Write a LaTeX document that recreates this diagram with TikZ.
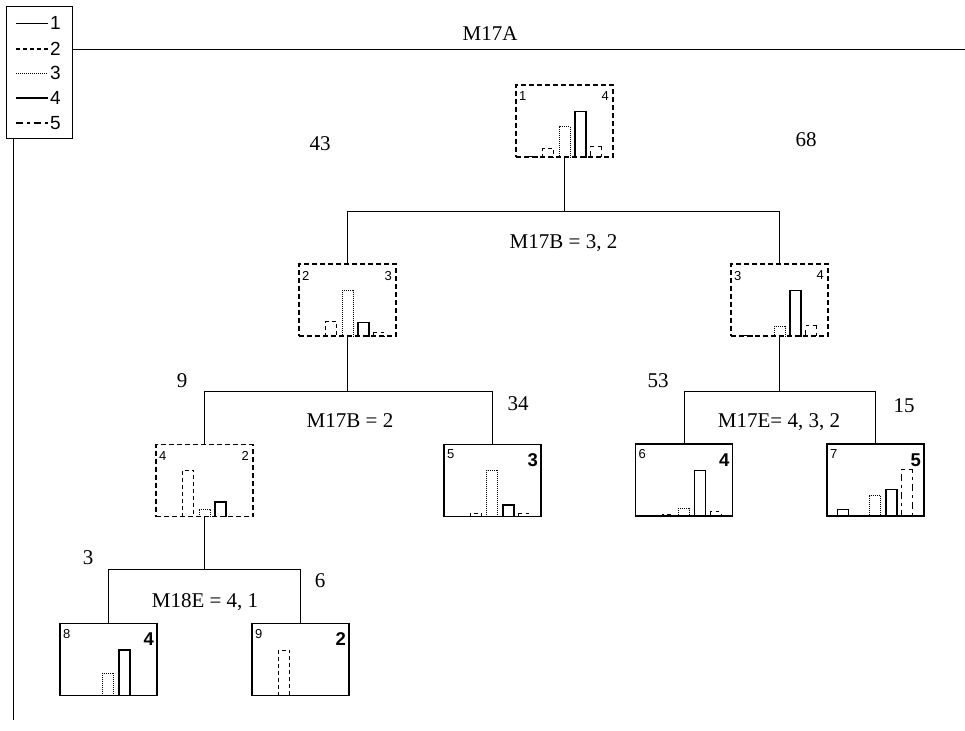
\documentclass[tikz,border=0pt]{standalone}
\usepackage{fontspec}
\setmainfont{Liberation Serif}
\newfontfamily\arialf{Liberation Sans}
\usetikzlibrary{calc}
\tikzset{
  dbox/.style={draw, line width=1.3pt, dash pattern=on 5pt off 3pt, minimum width=97pt, minimum height=72pt, inner sep=0pt},
  lbox/.style={draw, line width=1.4pt, minimum width=97pt, minimum height=72pt, inner sep=0pt},
  c1/.style={line width=0.8pt},
  c2/.style={line width=1.2pt, dash pattern=on 4pt off 3pt},
  c3/.style={line width=0.7pt, dash pattern=on 1pt off 1pt},
  c4/.style={line width=1.5pt},
  c5/.style={line width=1.2pt, dash pattern=on 7pt off 4pt on 3pt off 4pt},
  conn/.style={line width=0.8pt},
  txt/.style={font=\fontsize{21}{22}\selectfont, anchor=base, inner sep=0pt},
  small/.style={font=\arialf\fontsize{13}{14}\selectfont, inner sep=0pt},
  big/.style={font=\arialf\bfseries\fontsize{18.5}{19}\selectfont, inner sep=0pt},
  legnum/.style={font=\arialf\fontsize{19}{20}\selectfont, inner sep=0pt, anchor=west}
}
\newcommand\onebar[4]{\ifdim #3pt>0pt \draw[#4] ($(#1.south west)+({16*#2-4.5},0)$) -- ++(0,-#3) -- ++(11,0) -- ++(0,#3);\fi}
\newcommand\histo[6]{\onebar{#1}{1}{#2}{c1}\onebar{#1}{2}{#3}{c2}\onebar{#1}{3}{#4}{c3}\onebar{#1}{4}{#5}{c4}\onebar{#1}{5}{#6}{c5}}
\newcommand\dlabels[3]{%
  \node[small, anchor=north west] (#1l) at ($(#1.north west)+(3.5,7.5)$) {#2};
  \node[small, anchor=north east] (#1r) at ($(#1.north east)+(-4.5,7.5)$) {#3};}
\newcommand\llabels[3]{%
  \node[small, anchor=north west] (#1l) at ($(#1.north west)+(3.5,6)$) {#2};
  \node[big, anchor=north east] (#1r) at ($(#1.north east)+(-3.5,10)$) {#3};}
\begin{document}
\begin{tikzpicture}[x=1pt,y=-1pt]
\useasboundingbox (0,0) rectangle (965,730);
% legend
\node[draw, line width=0.9pt, minimum width=66pt, minimum height=132pt, inner sep=0pt] (leg) at (39,72) {};
\coordinate (l1a) at (16,23); \coordinate (l1b) at (48,23);
\coordinate (l2a) at (16,49); \coordinate (l2b) at (48,49);
\coordinate (l3a) at (16,73); \coordinate (l3b) at (48,73);
\coordinate (l4a) at (16,98); \coordinate (l4b) at (48,98);
\coordinate (l5a) at (16,123); \coordinate (l5b) at (48,123);
\draw[c1] (l1a) -- (l1b); \node[legnum] (ln1) at (50,23) {1};
\draw[c2] (l2a) -- (l2b); \node[legnum] (ln2) at (50,49) {2};
\draw[c3] (l3a) -- (l3b); \node[legnum] (ln3) at (50,73) {3};
\draw[c4] (l4a) -- (l4b); \node[legnum] (ln4) at (50,98) {4};
\draw[c5] (l5a) -- (l5b); \node[legnum] (ln5) at (50,123) {5};
\coordinate (titleend) at (965,49);
\coordinate (vtop) at (13,138);
\coordinate (vbot) at (13,720);
\draw[conn] (leg.east |- titleend) -- (titleend);
\draw[conn] (vtop) -- (vbot);
\node[txt] (title) at (490,41) {M17A};
% boxes
\node[dbox] (n1) at (564.5,121) {};
\node[dbox] (n2) at (347.5,300) {};
\node[dbox] (n3) at (779.5,300) {};
\node[dbox] (n4) at (204.5,480.5) {};
\node[lbox] (n5) at (492.5,480.5) {};
\node[lbox] (n6) at (684,480) {};
\node[lbox] (n7) at (875.5,480) {};
\node[lbox] (n8) at (108.5,659.5) {};
\node[lbox] (n9) at (300.5,659.5) {};
\dlabels{n1}{1}{4}
\dlabels{n2}{2}{3}
\dlabels{n3}{3}{4}
\dlabels{n4}{4}{2}
\llabels{n5}{5}{3}
\llabels{n6}{6}{4}
\llabels{n7}{7}{5}
\llabels{n8}{8}{4}
\llabels{n9}{9}{2}
% histograms
\histo{n1}{1.5}{9}{31}{46}{11}
\histo{n2}{0}{15}{46}{14}{4}
\histo{n3}{1.5}{1.5}{10}{46}{11}
\histo{n4}{0}{47}{8}{15}{0}
\histo{n5}{0}{4}{47}{12}{4}
\histo{n6}{0}{2.5}{8}{46}{5}
\histo{n7}{7}{0}{21}{27}{47}
\histo{n8}{0}{0}{23}{46}{0}
\histo{n9}{0}{46}{0}{0}{0}
% connectors
\draw[conn] (n1.south) -- (n1.south |- 0,211);
\draw[conn] (n2.north) -- (n2.north |- 0,211) -- (n3.north |- 0,211) -- (n3.north);
\draw[conn] (n2.south) -- (n2.south |- 0,391);
\draw[conn] (n4.north) -- (n4.north |- 0,391) -- (n5.north |- 0,391) -- (n5.north);
\draw[conn] (n3.south) -- (n3.south |- 0,391);
\draw[conn] (n6.north) -- (n6.north |- 0,391) -- (n7.north |- 0,391) -- (n7.north);
\draw[conn] (n4.south) -- (n4.south |- 0,569);
\draw[conn] (n8.north) -- (n8.north |- 0,569) -- (n9.north |- 0,569) -- (n9.north);
% labels
\node[txt] (t43) at (320,150) {43};
\node[txt] (t68) at (806,147) {68};
\node[txt] (s1) at (563.5,248) {M17B = 3, 2};
\node[txt] (t9) at (182,387) {9};
\node[txt] (t34) at (518,410) {34};
\node[txt] (s2) at (350,427) {M17B = 2};
\node[txt] (t53) at (658,387) {53};
\node[txt] (t15) at (904,412) {15};
\node[txt] (s3) at (779,427) {M17E= 4, 3, 2};
\node[txt] (t3) at (88,564) {3};
\node[txt] (t6) at (320,587) {6};
\node[txt] (s4) at (205,607) {M18E = 4, 1};
\end{tikzpicture}
\end{document}
